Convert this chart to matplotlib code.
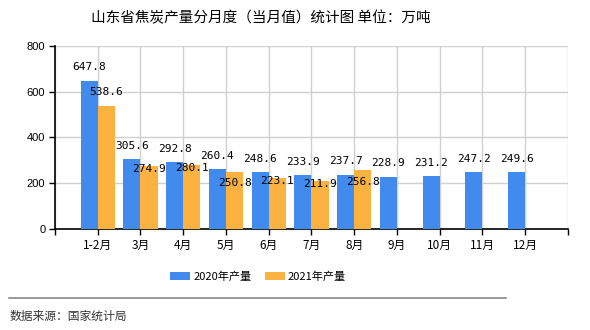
import numpy as np
import matplotlib.pyplot as plt

# 数据
months = ["1-2月", "3月", "4月", "5月", "6月", "7月", "8月", "9月", "10月", "11月", "12月"]
y2020 = [647.8, 305.6, 292.8, 260.4, 248.6, 233.9, 237.7, 228.9, 231.2, 247.2, 249.6]
y2021 = [538.6, 274.9, 280.1, 250.8, 223.1, 211.9, 256.8]
yticks = [0, 200, 400, 600, 800]

cjk = ["Noto Sans CJK SC", "DejaVu Sans"]
plt.rcParams["font.family"] = cjk

blue = "#418AEE"
orange = "#FBB241"

fig = plt.figure(figsize=(5.9, 3.3), dpi=100)
ax = fig.add_axes([0.0932, 0.3061, 0.8695, 0.5545])

x = np.arange(1, len(months) + 1)
w = 0.4
x21 = x[:len(y2021)]
b1 = ax.bar(x - w / 2, y2020, width=w, color=blue, label="2020年产量", zorder=3)
b2 = ax.bar(x21 + w / 2, y2021, width=w, color=orange, label="2021年产量", zorder=3)

# 数值标签
for xi, v in zip(x, y2020):
    ax.annotate("{:.1f}".format(v), (xi - w / 2, v), xytext=(0, 6),
                textcoords="offset points", ha="center", va="bottom",
                fontsize=8, family="DejaVu Sans Mono", zorder=5)
for xi, v, v0 in zip(x21, y2021, y2020):
    if v0 - v > 100:
        off = 6
    elif v0 - v > 10:
        off = -6
    else:
        off = -12
    ax.annotate("{:.1f}".format(v), (xi + w / 2, v), xytext=(0, off),
                textcoords="offset points", ha="center", va="bottom",
                fontsize=8, family="DejaVu Sans Mono", zorder=5)

ax.set_xlim(0, len(months) + 1)
ax.set_ylim(0, 800)
ax.set_yticks(yticks)
ax.set_yticklabels([str(t) for t in yticks], fontsize=8, family="Liberation Sans")
ax.set_xticks(np.arange(0, len(months) + 2))
ax.set_xticklabels([""] + months + [""], fontsize=8.5)
ax.tick_params(axis="both", length=4, width=1, color="black", pad=3)
ax.grid(True, color="#d0d0d0", linewidth=1, zorder=0)
for s in ["top", "right"]:
    ax.spines[s].set_visible(False)
ax.spines["left"].set_linewidth(1.2)
ax.spines["bottom"].set_linewidth(1.2)

fig.text(261 / 590, 1 - 18 / 330, "山东省焦炭产量分月度（当月值）统计图 单位：万吨",
         ha="center", va="center", fontsize=10.5)

fig.legend(handles=[b1, b2], loc="center", bbox_to_anchor=(258 / 590, 1 - 277 / 330),
           ncol=2, frameon=False, fontsize=8, handlelength=1.8, handleheight=0.7,
           handletextpad=0.25, columnspacing=1.2, borderpad=0)

fig.add_artist(plt.Line2D([9 / 590, 506 / 590], [1 - 298 / 330, 1 - 298 / 330],
                          color="#888888", linewidth=1.2))
fig.text(10 / 590, 1 - 316 / 330, "数据来源：国家统计局", ha="left", va="center",
         fontsize=8.5, color="#333333")

fig.savefig("out.png", dpi=100)
